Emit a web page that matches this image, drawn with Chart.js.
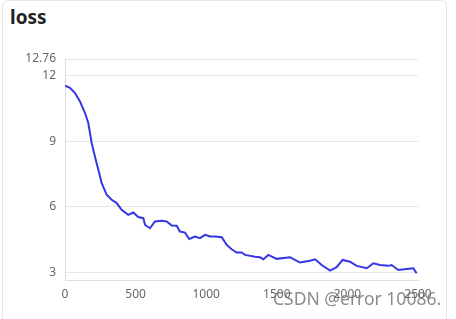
<!DOCTYPE html>
<html>
<head>
<meta charset="utf-8">
<script src="https://cdn.jsdelivr.net/npm/chart.js@4"></script>
<style>
  html, body { margin: 0; padding: 0; background: #fff; }
  body { width: 456px; height: 319px; position: relative; overflow: hidden; font-family: "Noto Sans", sans-serif; }
  .card { position: absolute; left: 2px; top: 0; width: 445px; height: 330px; border: 1px solid #e6e6e6; border-radius: 6px; box-sizing: border-box; }
  .title { position: absolute; left: 10px; top: 4px; font-size: 19px; font-weight: bold; color: #222; }
  canvas { position: absolute; left: 0; top: 0; }
  .mark { position: absolute; left: 273px; top: 286px; font-size: 17.5px; color: rgba(120,120,120,0.85); white-space: nowrap; }
</style>
</head>
<body>
<div class="card"></div>
<div class="title">loss</div>
<canvas id="lossChart" width="456" height="319"></canvas>
<div class="mark">CSDN @error 10086.</div>
<script>
const steps = [0, 35, 71, 106, 142, 165, 189, 212, 236, 260, 295, 331, 366, 401, 448, 484, 519, 555, 567, 602,
  637, 685, 720, 756, 791, 814, 850, 880, 921, 956, 992, 1027, 1062, 1110, 1145, 1180, 1216, 1251, 1275, 1346,
  1381, 1405, 1440, 1499, 1594, 1664, 1735, 1771, 1818, 1877, 1924, 1966, 2018, 2066, 2137, 2184, 2231, 2290,
  2313, 2361, 2420, 2467, 2490];
const losses = [11.54, 11.44, 11.2, 10.82, 10.29, 9.83, 8.92, 8.3, 7.69, 7.08, 6.55, 6.32, 6.17, 5.86, 5.63, 5.74, 5.53, 5.48, 5.17, 5.02,
  5.33, 5.36, 5.33, 5.14, 5.13, 4.87, 4.82, 4.53, 4.64, 4.57, 4.72, 4.64, 4.64, 4.61, 4.26, 4.06, 3.91, 3.91, 3.8, 3.72,
  3.69, 3.6, 3.8, 3.62, 3.69, 3.45, 3.53, 3.6, 3.34, 3.08, 3.24, 3.57, 3.49, 3.3, 3.19, 3.42, 3.34, 3.3,
  3.34, 3.11, 3.16, 3.19, 2.96];
const yTicks = [3, 6, 9, 12, 12.76];
const xTicks = [0, 500, 1000, 1500, 2000, 2500];

const ctx = document.getElementById('lossChart').getContext('2d');

new Chart(ctx, {
  type: 'line',
  data: {
    datasets: [{
      data: steps.map((s, i) => ({ x: s, y: losses[i] })),
      borderColor: '#3636e6',
      borderWidth: 2,
      pointRadius: 0,
      tension: 0
    }]
  },
  options: {
    responsive: false,
    animation: false,
    layout: { padding: { top: 59, right: 38, left: 0, bottom: 0 } },
    plugins: {
      legend: { display: false },
      tooltip: { enabled: false }
    },
    scales: {
      x: {
        type: 'linear',
        min: 0,
        max: 2500,
        afterBuildTicks: scale => { scale.ticks = xTicks.map(v => ({ value: v })); },
        afterFit: scale => { scale.height = 38.5; },
        grid: { display: false, drawTicks: false },
        border: { color: '#dcdcdc' },
        ticks: { color: '#666', padding: 7, font: { family: 'Noto Sans', size: 12 }, callback: v => String(v) }
      },
      y: {
        min: 2.63,
        max: 12.76,
        afterBuildTicks: scale => { scale.ticks = yTicks.map(v => ({ value: v })); },
        afterFit: scale => { scale.width = 65; },
        grid: { color: '#e6e6e6', drawTicks: false },
        border: { color: '#dcdcdc' },
        ticks: {
          color: '#666',
          padding: 9,
          font: { family: 'Noto Sans', size: 12 },
          callback: v => String(v)
        }
      }
    }
  }
});
</script>
</body>
</html>
